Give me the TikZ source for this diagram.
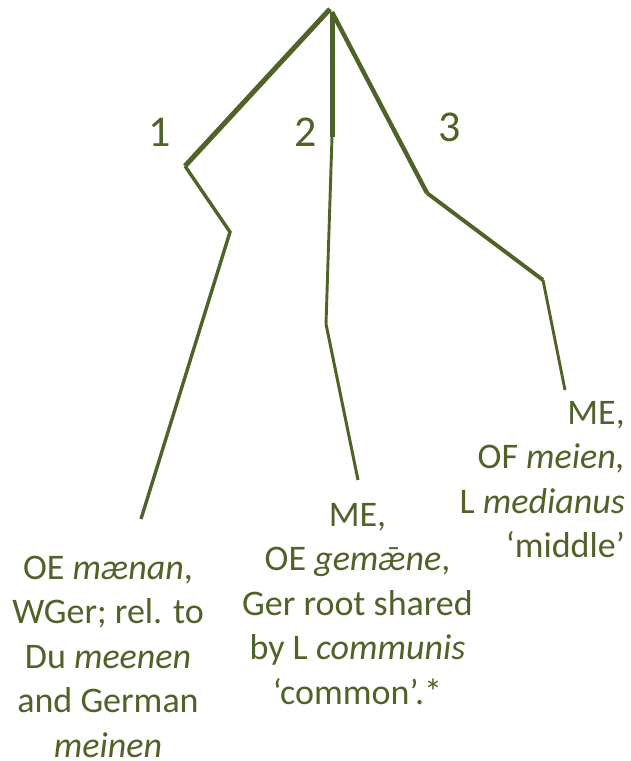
\documentclass[tikz,border=0pt]{standalone}
\usepackage{fontspec}
\setmainfont{Carlito}
\definecolor{olive}{RGB}{79,98,40}
\begin{document}
\begin{tikzpicture}[x=1pt,y=-1pt,
  branch/.style={draw=olive,line cap=butt,line join=miter},
  num/.style={text=olive,font=\fontsize{44}{50}\selectfont,inner sep=0pt},
  gloss/.style={text=olive,font=\fontsize{36}{44.5}\selectfont,inner sep=0pt}]
\useasboundingbox (0,0) rectangle (631,761);
\coordinate (top) at (330,9);
\coordinate (top2) at (332,12);
\coordinate (a1) at (185,166);
\coordinate (a2) at (230,232);
\coordinate (a3) at (141,519);
\coordinate (b1) at (332,137);
\coordinate (b2) at (326,324);
\coordinate (b3) at (358,480);
\coordinate (c1) at (427,193);
\coordinate (c2) at (543,280);
\coordinate (c3) at (565,390);
% branch 1
\draw[branch,line width=5pt] (top) -- (a1);
\draw[branch,line width=3.4pt] (a1) -- (a2) -- (a3);
% branch 2
\draw[branch,line width=5pt] (top2) -- (b1);
\draw[branch,line width=2.9pt] (b1) -- (b2);
\draw[branch,line width=3pt] (b2) -- (b3);
% branch 3
\draw[branch,line width=4.4pt] (top2) -- (c1);
\draw[branch,line width=3.9pt] (c1) -- (c2);
\draw[branch,line width=2.9pt] (c2) -- (c3);
% numbers
\node[num] (n1) at (160,132) {1};
\node[num] (n2) at (306,132) {2};
\node[num] (n3) at (450,127) {3};
% glosses (anchor base = baseline of last line)
\node[gloss,align=center,anchor=base] (g1) at (108,757)
  {OE \textit{mænan},\\WGer; rel. to\\Du \textit{meenen}\\and German\\\textit{meinen}};
\node[gloss,align=center,anchor=base] (g2) at (357.5,704)
  {ME,\\OE \textit{gemǣne},\\Ger root shared\\by L \textit{communis}\\‘common’.*};
\node[gloss,align=right,anchor=base east] (g3) at (625,557.5)
  {ME,\\OF \textit{meien,}\\L \textit{medianus}\\‘middle’};
\end{tikzpicture}
\end{document}
